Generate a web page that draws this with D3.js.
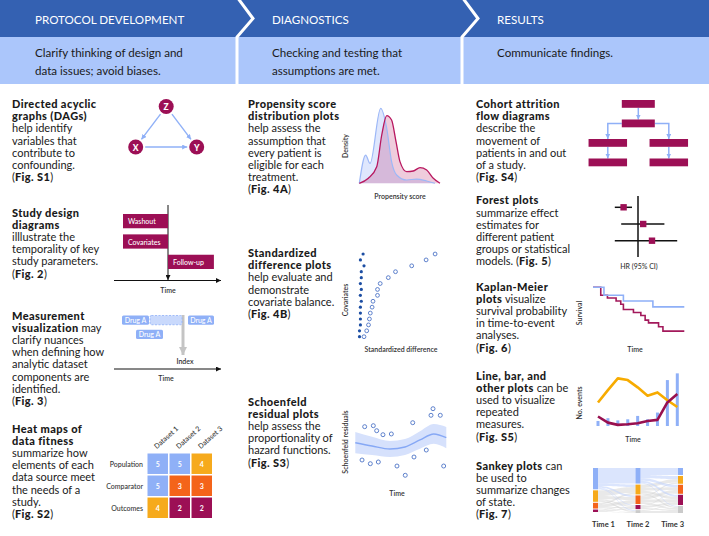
<!DOCTYPE html>
<html><head><meta charset="utf-8">
<script src="https://cdn.jsdelivr.net/npm/d3@7"></script>
<style>
html,body{margin:0;padding:0;background:#fff;}
svg{display:block;font-family:Lato,"Noto Sans",sans-serif;}
text{white-space:pre;}
</style></head><body>
<svg id="c" width="709" height="536"></svg>
<script>
// ---------------- DATA ----------------
const phases = ["PROTOCOL DEVELOPMENT", "DIAGNOSTICS", "RESULTS"];
const phaseNotes = [
  ["Clarify thinking of design and", "data issues; avoid biases."],
  ["Checking and testing that", "assumptions are met."],
  ["Communicate findings."]
];
const textDAG = ["**Directed acyclic**","**graphs (DAGs)**","help identify","variables that","contribute to","confounding.","(**Fig. S1**)"];
const textDesign = ["**Study design**","**diagrams**","illlustrate the","temporality of key","study parameters.","(**Fig. 2**)"];
const textMeasure = ["**Measurement**","**visualization** may","clarify nuances","when defining how","analytic dataset","components are","identified.","(**Fig. 3**)"];
const textHeat = ["**Heat maps of**","**data fitness**","summarize how","elements of each","data source meet","the needs of a","study.","(**Fig. S2**)"];
const textPS = ["**Propensity score**","**distribution plots**","help assess the","assumption that","every patient is","eligible for each","treatment.","(**Fig. 4A**)"];
const textSD = ["**Standardized**","**difference plots**","help evaluate and","demonstrate","covariate balance.","(**Fig. 4B**)"];
const textSch = ["**Schoenfeld**","**residual plots**","help assess the","proportionality of","hazard functions.","(**Fig. S3**)"];
const textCohort = ["**Cohort attrition**","**flow diagrams**","describe the","movement of","patients in and out","of a study.","(**Fig. S4**)"];
const textForest = ["**Forest plots**","summarize effect","estimates for","different patient","groups or statistical","models. (**Fig. 5**)"];
const textKM = ["**Kaplan-Meier**","**plots** visualize","survival probability","in time-to-event","analyses.","(**Fig. 6**)"];
const textLine = ["**Line, bar, and**","**other plots** can be","used to visualize","repeated","measures.","(**Fig. S5**)"];
const textSankey = ["**Sankey plots** can","be used to","summarize changes","of state.","(**Fig. 7**)"];

// DAG
const dagNodes = [{id:"Z", u:0.5, v:0}, {id:"X", u:0, v:1}, {id:"Y", u:1, v:1}];
const dagEdges = [["Z","X"], ["Z","Y"], ["X","Y"]];
// Study design (time relative to index)
const designBars = ["Washout", "Covariates", "Follow-up"];
const designStart = [-1, -1, 0];
const designEnd = [0, 0, 1.02];
// Measurement visualization (days relative to index)
const measLabels = ["Drug A", "", "Drug A", "Drug A"];
const measStart = [-61, -33, 5, -47];
const measEnd = [-34, -1, 31, -20];
const measRow = [0, 0, 0, 1];
const measDashed = [false, true, false, false];
// Heat map
const heatRows = ["Population", "Comparator", "Outcomes"];
const heatCols = ["Dataset 1", "Dataset 2", "Dataset 3"];
const heatValues = [[5,5,4],[5,3,3],[4,2,2]];
// Propensity score densities
const psBlueX = [0, 0.079, 0.133, 0.265, 0.34, 0.40, 0.463, 0.587, 0.711, 0.835, 0.938];
const psBlueY = [0, 0.377, 0.265, 1.0, 0.733, 0.289, 0.111, 0.044, 0.057, 0.031, 0];
const psRedX = [0, 0.112, 0.216, 0.278, 0.34, 0.40, 0.455, 0.504, 0.587, 0.669, 0.752, 0.835, 0.917, 1.0];
const psRedY = [0, 0.067, 0.221, 0.644, 0.903, 0.844, 0.555, 0.289, 0.155, 0.164, 0.208, 0.177, 0.067, 0];
// Standardized differences (15 covariates)
const sdAfter = [0.09,0.06,0.10,0.07,0.07,0.06,0.07,0.06,0.07,0.06,0.06,0.06,0.06,0.05,0.05];
const sdBefore = [0.89,0.79,0.63,0.45,0.37,0.28,0.25,0.25,0.20,0.19,0.17,0.16,0.15,0.13,0.10];
// Schoenfeld residuals
const schT = [0.103,0.198,0.235,0.304,0.396,0.631,0.832,0.854,0.934,0.074,0.165,0.253,0.458,0.549,0.645,0.780,0.971];
const schR = [0.403,0.429,0.297,0.192,0.211,0.508,0.703,0.876,0.703,-0.474,-0.571,-0.526,-0.632,-0.876,-0.395,-0.211,-0.632];
const smoothT = [0, 0.184, 0.381, 0.546, 0.711, 0.862, 1.0];
const smoothFit = [-0.018, -0.105, -0.184, -0.132, 0.053, 0.211, 0.113];
const smoothSE = [0.28, 0.24, 0.21, 0.21, 0.23, 0.26, 0.28];
// Cohort attrition boxes
const cohortBoxes = [{pos:"center",lvl:0},{pos:"center",lvl:1},{pos:"left",lvl:2},{pos:"left",lvl:3},{pos:"right",lvl:2},{pos:"right",lvl:3}];
const cohortLinks = [[0,1],[1,2],[1,4],[2,3],[4,5]];
// Forest plot
const forestEst = [0.64, 1.13, 1.35];
const forestLo = [0.42, 0.58, 0.42];
const forestHi = [0.85, 1.66, 1.98];
// Kaplan-Meier
const kmBlueT = [0, 12, 33.3, 65.6, 100];
const kmBlueS = [1, 0.886, 0.804, 0.719, 0.719];
const kmRedT = [0, 8.5, 15.8, 25.3, 30.4, 33.3, 44.3, 52.4, 57.1, 60.8, 71.8, 76.6, 100];
const kmRedS = [1, 0.886, 0.847, 0.804, 0.757, 0.681, 0.639, 0.596, 0.529, 0.490, 0.433, 0.371, 0.371];
// Line / bar plot
const lineBars = [9, 14, 10, 12, 18, 12, 24, 82, 94];
const lineOrange = [42, 64, 85, 82, 69, 54, 60, 46, 34];
const lineCrimson = [17, 6, 2, 3, 5, 9, 11, 42, 57];
// Sankey
const sankeyTimes = ["Time 1", "Time 2", "Time 3"];
const flow12 = [[38,6,4,2,2],[0,14,8,3,3],[0,4,7,2,1],[0,0,2,3,1],[0,0,0,0,0]];
const flow23 = [[17,8,6,5,2],[0,8,7,6,3],[0,3,7,7,4],[0,0,2,5,3],[0,0,0,2,5]];

// ---------------- STYLE ----------------
const C = {dark:"#3461b2", band:"#abc6fb", crimson:"#9c0f55", lblue:"#8fb0f7", amber:"#f6aa1c",
  orange:"#f4641a", gray:"#cacaca", navy:"#1d4ea3", ink:"#1a1a1a", lab:"#333", open:"#4d74c6"};
const svg = d3.select("#c");
const W = 709;
const colX = [0, 237, 462];
const hdrH = 37, bandB = 84;

const defs = svg.append("defs");
function mk(id, color, w, h){
  defs.append("marker").attr("id", id).attr("viewBox", "0 0 10 10").attr("refX", 10).attr("refY", 5)
    .attr("markerUnits","userSpaceOnUse").attr("markerWidth", w).attr("markerHeight", h)
    .attr("orient","auto").append("path").attr("d","M0,0L10,5L0,10Z").attr("fill", color);
}
mk("ab", C.lblue, 5, 5);
mk("ak", "#111", 5, 5);
mk("ag", "#c4c4c4", 8, 9);

// ---------------- HEADER ----------------
svg.append("rect").attr("x",0).attr("y",0).attr("width",W).attr("height",hdrH).attr("fill",C.dark);
svg.append("rect").attr("x",0).attr("y",hdrH).attr("width",W).attr("height",bandB-hdrH).attr("fill",C.band);
[237, 462].forEach(x => {
  svg.append("path").attr("d", `M${x},-3L${x+16},${hdrH/2}L${x},${hdrH}L${x},${bandB}`)
    .attr("fill","none").attr("stroke","#fff").attr("stroke-width",3);
});
phases.forEach((p,i) => {
  svg.append("text").attr("x", colX[i]+35).attr("y", 24).attr("fill","#fff")
    .attr("font-size",11.6).text(p);
  phaseNotes[i].forEach((l,j) => {
    svg.append("text").attr("x", colX[i]+35).attr("y", 57 + j*18).attr("fill",C.ink)
      .attr("font-size",11.6).text(l);
  });
});

// ---------------- BODY TEXT ----------------
const LH = 12.2;
function block(lines, x, y0){
  lines.forEach((str, i) => {
    const t = svg.append("text").attr("x", x).attr("y", y0 + 3.9 + i*LH).attr("font-size", 11).attr("fill", C.ink);
    str.split(/(\*\*[^*]+\*\*)/).filter(s => s.length).forEach(s => {
      const b = s.startsWith("**");
      const ts = t.append("tspan").attr("font-weight", b ? 900 : 400).text(b ? s.slice(2,-2) : s);
      if (b) ts.attr("letter-spacing", 0.4);
    });
  });
}
block(textDAG, 12, 104);
block(textDesign, 12, 212.7);
block(textMeasure, 12, 315.7);
block(textHeat, 12, 428.7);
block(textPS, 248, 104);
block(textSD, 248, 253);
block(textSch, 248, 401.7);
block(textCohort, 476, 104);
block(textForest, 476, 200.5);
block(textKM, 476, 286.7);
block(textLine, 476, 375.7);
block(textSankey, 476, 465.7);

function label(x, y, s, opts={}){
  const t = svg.append("text").attr("x",x).attr("y",y).attr("font-size", opts.size||7)
    .attr("fill", opts.fill||C.lab).attr("font-weight", opts.weight||600)
    .attr("text-anchor", opts.anchor||"middle").attr("dominant-baseline","central").text(s);
  if (opts.rot) t.attr("transform", `rotate(${opts.rot},${x},${y})`);
  return t;
}

// ---------------- DAG ----------------
{
  const x = d3.scaleLinear([0,1],[135.7,196.7]);
  const y = d3.scaleLinear([0,1],[106.5,147]);
  const byId = Object.fromEntries(dagNodes.map(n => [n.id, n]));
  const r = 7.5;
  dagEdges.forEach(([a,b]) => {
    const A = byId[a], B = byId[b];
    const x1 = x(A.u), y1 = y(A.v), x2 = x(B.u), y2 = y(B.v);
    const d = Math.hypot(x2-x1, y2-y1), ux = (x2-x1)/d, uy = (y2-y1)/d;
    svg.append("line").attr("x1", x1+ux*(r+2)).attr("y1", y1+uy*(r+2))
      .attr("x2", x2-ux*(r+2)).attr("y2", y2-uy*(r+2))
      .attr("stroke", C.lblue).attr("stroke-width",1.4).attr("marker-end","url(#ab)");
  });
  dagNodes.forEach(n => {
    svg.append("circle").attr("cx", x(n.u)).attr("cy", y(n.v)).attr("r", r).attr("fill", C.crimson);
    label(x(n.u), y(n.v)+0.5, n.id, {fill:"#fff", size:8.5, weight:900});
  });
}

// ---------------- STUDY DESIGN ----------------
{
  const x = d3.scaleLinear([-1,0],[123,168]);
  const y = d3.scaleBand(designBars, [214, 269]).paddingInner(0.3);
  svg.append("line").attr("x1",114).attr("x2",221).attr("y1",280.5).attr("y2",280.5)
    .attr("stroke","#111").attr("stroke-width",1).attr("marker-end","url(#ak)");
  svg.append("line").attr("x1",x(0)).attr("x2",x(0)).attr("y1",205).attr("y2",280)
    .attr("stroke","#111").attr("stroke-width",1).attr("marker-end","url(#ak)");
  designBars.forEach((b,i) => {
    svg.append("rect").attr("x", x(designStart[i])).attr("y", y(b))
      .attr("width", x(designEnd[i]) - x(designStart[i])).attr("height", y.bandwidth()).attr("fill", C.crimson);
    label(x(designStart[i]) + 5, y(b) + y.bandwidth()/2, b, {fill:"#fff", anchor:"start", weight:500});
  });
  label(168, 290, "Time");
}

// ---------------- MEASUREMENT ----------------
{
  const x = d3.scaleLinear([-1, 0], [182, 183]);
  const y = d3.scaleBand([0,1], [315.5, 339]).paddingInner(0.35);
  svg.append("line").attr("x1", x(0)).attr("x2", x(0)).attr("y1", 315).attr("y2", 355)
    .attr("stroke","#c4c4c4").attr("stroke-width",3).attr("marker-end","url(#ag)");
  measLabels.forEach((l,i) => {
    const r = svg.append("rect").attr("x", x(measStart[i])).attr("y", y(measRow[i]))
      .attr("width", x(measEnd[i]) - x(measStart[i])).attr("height", y.bandwidth()).attr("rx", 1.5);
    if (measDashed[i]) r.attr("fill","#c9d9fc").attr("stroke",C.lblue).attr("stroke-dasharray","2,1.5").attr("stroke-width",0.8);
    else r.attr("fill", C.lblue);
    if (l) label((x(measStart[i]) + x(measEnd[i]))/2, y(measRow[i]) + y.bandwidth()/2, l, {fill:"#fff", weight:500});
  });
  svg.append("line").attr("x1",114).attr("x2",221).attr("y1",369).attr("y2",369)
    .attr("stroke","#111").attr("stroke-width",1).attr("marker-end","url(#ak)");
  label(185, 361, "Index");
  label(166, 378, "Time");
}

// ---------------- HEAT MAP ----------------
{
  const x = d3.scaleBand(heatCols, [147.5, 212]).paddingInner(0.07);
  const y = d3.scaleBand(heatRows, [453.5, 518]).paddingInner(0.07);
  const col = d3.scaleOrdinal([5,4,3,2], [C.lblue, C.amber, C.orange, C.crimson]);
  heatRows.forEach((r,i) => {
    label(143, y(r) + y.bandwidth()/2, r, {anchor:"end", weight:500});
    heatCols.forEach((c,j) => {
      svg.append("rect").attr("x", x(c)).attr("y", y(r)).attr("width", x.bandwidth()).attr("height", y.bandwidth())
        .attr("fill", col(heatValues[i][j]));
      label(x(c) + x.bandwidth()/2, y(r) + y.bandwidth()/2, heatValues[i][j], {fill:"#fff", weight:700});
    });
  });
  heatCols.forEach(c => {
    label(x(c) + x.bandwidth()/2 - 3, 447, c, {anchor:"start", rot:-42, weight:500});
  });
}

// ---------------- PROPENSITY ----------------
{
  const x = d3.scaleLinear([0,1],[359.3,440]);
  const y = d3.scaleLinear([0,1],[183.3,108.3]);
  const area = d3.area().x(d => x(d[0])).y0(y(0)).y1(d => y(d[1])).curve(d3.curveMonotoneX);
  const line = d3.line().x(d => x(d[0])).y(d => y(d[1])).curve(d3.curveMonotoneX);
  const blue = psBlueX.map((v,i) => [v, psBlueY[i]]);
  const red = psRedX.map((v,i) => [v, psRedY[i]]);
  svg.append("path").attr("d", area(blue)).attr("fill","#dfe7fd");
  svg.append("path").attr("d", area(red)).attr("fill","#b5185e").attr("fill-opacity",0.22);
  svg.append("path").attr("d", line(blue)).attr("fill","none").attr("stroke","#9db8f7").attr("stroke-width",1.2);
  svg.append("path").attr("d", line(red)).attr("fill","none").attr("stroke","#b8175f").attr("stroke-width",1.3);
  label(345, 146, "Density", {rot:-90});
  label(400, 196, "Propensity score");
}

// ---------------- STANDARDIZED DIFFERENCE ----------------
{
  const x = d3.scaleLinear([0,1],[355,445]);
  const y = d3.scalePoint(d3.range(sdAfter.length), [254, 336.7]);
  sdBefore.forEach((v,i) => svg.append("circle").attr("cx", x(v)).attr("cy", y(i)).attr("r", 1.9)
    .attr("fill","#fff").attr("stroke", C.open).attr("stroke-width",0.9));
  sdAfter.forEach((v,i) => svg.append("circle").attr("cx", x(v)).attr("cy", y(i)).attr("r", 1.6).attr("fill", C.navy));
  label(345, 300, "Covariates", {rot:-90});
  label(401, 349, "Standardized difference");
}

// ---------------- SCHOENFELD ----------------
{
  const x = d3.scaleLinear([0,1],[355.3,446.3]);
  const y = d3.scaleLinear([-1,1],[480,404]);
  const sm = smoothT.map((t,i) => ({t, f:smoothFit[i], se:smoothSE[i]}));
  svg.append("path").attr("d", d3.area().x(d => x(d.t)).y0(d => y(d.f - d.se)).y1(d => y(d.f + d.se)).curve(d3.curveMonotoneX)(sm))
    .attr("fill","#d6e1fc");
  svg.append("path").attr("d", d3.line().x(d => x(d.t)).y(d => y(d.f)).curve(d3.curveMonotoneX)(sm))
    .attr("fill","none").attr("stroke","#86a8f5").attr("stroke-width",1.4);
  schT.forEach((t,i) => svg.append("circle").attr("cx", x(t)).attr("cy", y(schR[i])).attr("r", 2)
    .attr("fill","none").attr("stroke", C.open).attr("stroke-width",0.9));
  label(345, 442, "Schoenfeld residuals", {rot:-90});
  label(397, 493, "Time");
}

// ---------------- COHORT ATTRITION ----------------
{
  const x = d3.scalePoint(["left","center","right"], [607.8, 668.8]);
  const y = d3.scaleLinear([0,3],[100,158.5]);
  const bw = b => b.lvl < 2 ? 33 : 38.5;
  const bh = 7.8;
  const arrow = (d) => svg.append("path").attr("d", d).attr("fill","none").attr("stroke", C.lblue)
    .attr("stroke-width",1.5).attr("marker-end","url(#ab)");
  cohortLinks.forEach(([a,b]) => {
    const A = cohortBoxes[a], B = cohortBoxes[b];
    if (A.pos === B.pos) arrow(`M${x(A.pos)},${y(A.lvl)+bh}L${x(B.pos)},${y(B.lvl)}`);
    else {
      const side = x(B.pos) < x(A.pos) ? -1 : 1;
      const sx = x(A.pos) + side*bw(A)/2, sy = y(A.lvl) + bh/2;
      arrow(`M${sx},${sy}L${x(B.pos)},${sy}L${x(B.pos)},${y(B.lvl)}`);
    }
  });
  cohortBoxes.forEach(b => svg.append("rect").attr("x", x(b.pos) - bw(b)/2).attr("y", y(b.lvl))
    .attr("width", bw(b)).attr("height", bh).attr("fill", C.crimson));
}

// ---------------- FOREST ----------------
{
  const x = d3.scaleLinear([0,2],[598,678]);
  const y = d3.scalePoint(d3.range(forestEst.length), [207.3, 240.7]);
  svg.append("line").attr("x1", x(1)).attr("x2", x(1)).attr("y1",196).attr("y2",257).attr("stroke","#111").attr("stroke-width",1.5);
  forestEst.forEach((e,i) => {
    svg.append("line").attr("x1", x(forestLo[i])).attr("x2", x(forestHi[i])).attr("y1", y(i)).attr("y2", y(i))
      .attr("stroke","#111").attr("stroke-width",1.5);
    svg.append("rect").attr("x", x(e)-3.2).attr("y", y(i)-3.2).attr("width",6.4).attr("height",6.4).attr("fill",C.crimson);
  });
  label(639, 266, "HR (95% CI)", {weight:500});
}

// ---------------- KAPLAN-MEIER ----------------
{
  const x = d3.scaleLinear([0,100],[593,684.3]);
  const y = d3.scaleLinear([0,1],[357,287.3]);
  const step = d3.line().x(d => x(d[0])).y(d => y(d[1])).curve(d3.curveStepAfter);
  svg.append("path").attr("d", step(kmRedT.map((t,i) => [t, kmRedS[i]]))).attr("fill","none").attr("stroke","#a3195b").attr("stroke-width",1.6);
  svg.append("path").attr("d", step(kmBlueT.map((t,i) => [t, kmBlueS[i]]))).attr("fill","none").attr("stroke",C.lblue).attr("stroke-width",1.6);
  label(579, 313, "Survival", {rot:-90});
  label(635, 349, "Time");
}

// ---------------- LINE / BAR ----------------
{
  const x = d3.scalePoint(d3.range(lineBars.length), [598, 677.3]);
  const y = d3.scaleLinear([0,100],[426,370]);
  lineBars.forEach((v,i) => svg.append("rect").attr("x", x(i)-1.5).attr("y", y(v)).attr("width",3)
    .attr("height", y(0)-y(v)).attr("fill", C.lblue));
  const ln = d3.line().x((d,i) => x(i)).y(d => y(d));
  svg.append("path").attr("d", ln(lineOrange)).attr("fill","none").attr("stroke","#f7ab00").attr("stroke-width",2.6).attr("stroke-linejoin","round");
  svg.append("path").attr("d", ln(lineCrimson)).attr("fill","none").attr("stroke","#98104f").attr("stroke-width",2.6).attr("stroke-linejoin","round");
  label(579, 403, "No. events", {rot:-90});
  label(633, 439, "Time");
}

// ---------------- SANKEY ----------------
{
  const cols = [C.lblue, C.amber, C.orange, C.crimson, C.gray];
  const x = d3.scalePoint(sankeyTimes, [593, 678]);
  const bw = 5;
  const k = d3.scaleLinear([0,100],[0,41]);
  const sums = [
    flow12.map(r => d3.sum(r)),
    flow12[0].map((_,j) => d3.sum(flow12, r => r[j])),
    flow23[0].map((_,j) => d3.sum(flow23, r => r[j]))
  ];
  const nodes = sums.map(arr => {
    let yy = 468;
    return arr.map(v => { const n = {y0: yy, h: k(v), v}; if (v > 0) yy += k(v) + 1; return n; });
  });
  const flows = [flow12, flow23];
  flows.forEach((f, s) => {
    const src = nodes[s], tgt = nodes[s+1];
    const so = src.map(n => n.y0), to = tgt.map(n => n.y0);
    const links = [];
    f.forEach((row,i) => row.forEach((v,j) => { if (v > 0) links.push({i,j,v}); }));
    links.sort((a,b) => a.i - b.i || a.j - b.j).forEach(l => { l.sy = so[l.i]; so[l.i] += k(l.v); });
    links.sort((a,b) => a.j - b.j || a.i - b.i).forEach(l => { l.ty = to[l.j]; to[l.j] += k(l.v); });
    const x0 = x(sankeyTimes[s]) + bw, x1 = x(sankeyTimes[s+1]), xm = (x0 + x1)/2;
    links.forEach(l => {
      const h = k(l.v);
      svg.append("path").attr("d",
        `M${x0},${l.sy}C${xm},${l.sy} ${xm},${l.ty} ${x1},${l.ty}L${x1},${l.ty+h}C${xm},${l.ty+h} ${xm},${l.sy+h} ${x0},${l.sy+h}Z`)
        .attr("fill", l.i === 0 ? "#c3d4fb" : "#cfcfcf").attr("fill-opacity", l.i === 0 ? 0.6 : 0.45);
    });
  });
  nodes.forEach((arr, s) => arr.forEach((n, c) => {
    if (n.v > 0) svg.append("rect").attr("x", x(sankeyTimes[s])).attr("y", n.y0).attr("width", bw).attr("height", n.h).attr("fill", cols[c]);
  }));
  const anchors = ["start","middle","end"];
  sankeyTimes.forEach((t,i) => {
    const px = i === 0 ? x(t) - 1 : i === 1 ? x(t) + bw/2 : x(t) + bw + 1;
    label(px, 524, t, {anchor: anchors[i], size:7.5, weight:700});
  });
}
</script>
</body></html>
